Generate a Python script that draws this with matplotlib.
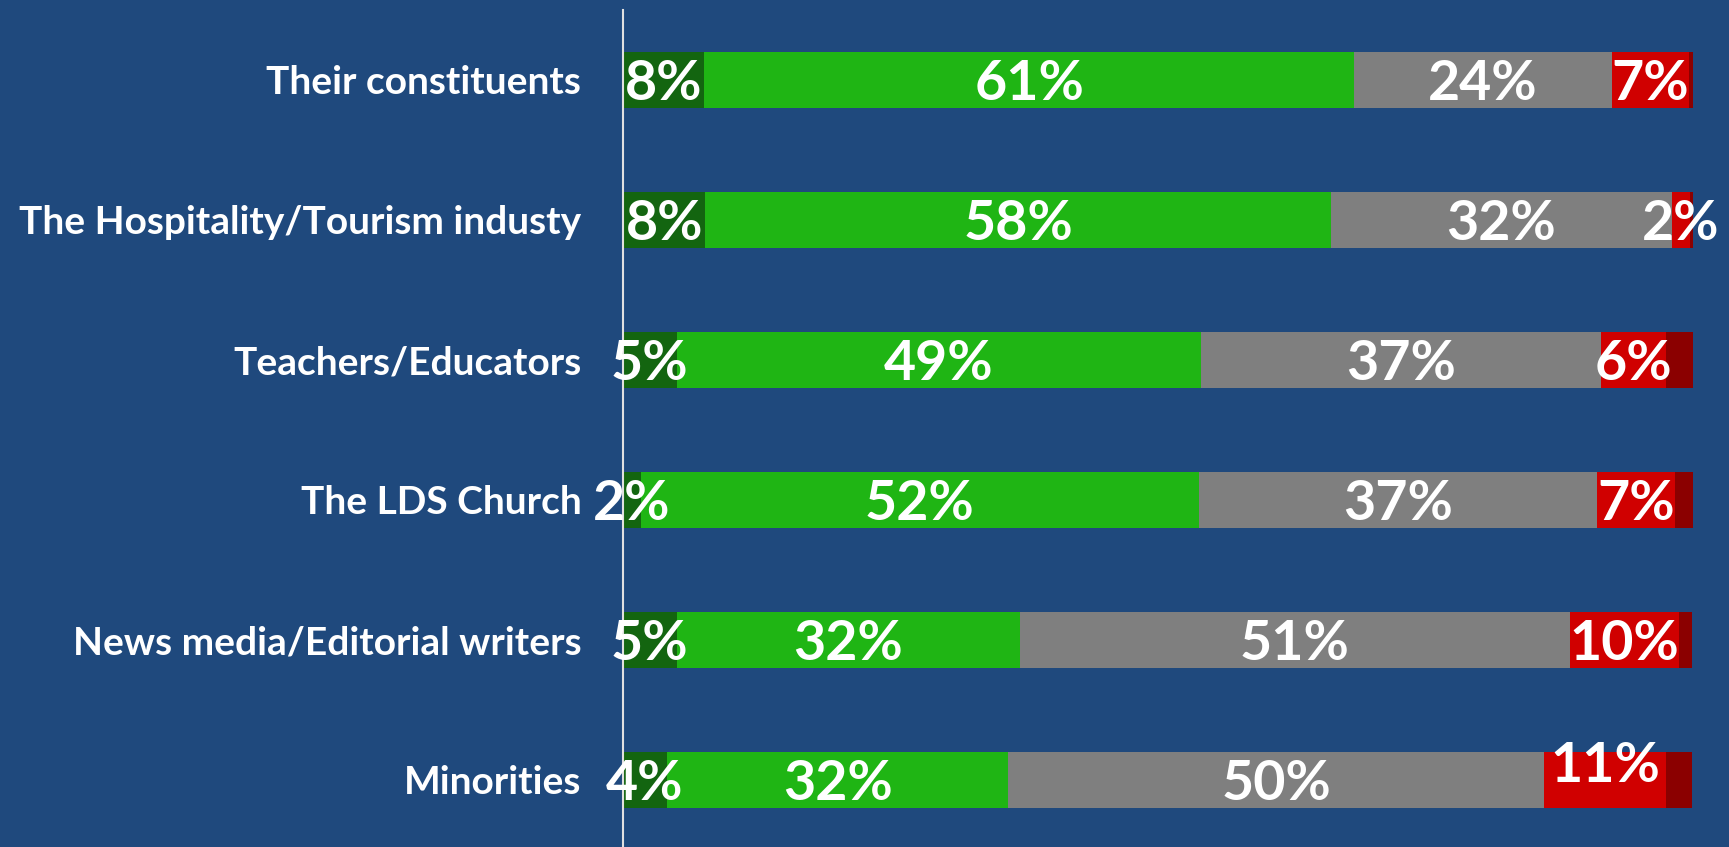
import numpy as np
import matplotlib.pyplot as plt

# Survey rows, top to bottom
categories = ['Their constituents', 'The Hospitality/Tourism industy', 'Teachers/Educators',
              'The LDS Church', 'News media/Editorial writers', 'Minorities']

# segment shares in percent
very_pos = [7.6, 7.7, 5.0, 1.7, 5.0, 4.1]
some_pos = [60.7, 58.5, 49.0, 52.1, 32.1, 31.9]
neutral = [24.1, 31.8, 37.4, 37.2, 51.4, 50.1]
some_neg = [7.2, 1.7, 6.1, 7.3, 10.2, 11.4]
very_neg = [0.4, 0.4, 2.5, 1.7, 1.2, 2.4]

bg = '#1F497D'
colors = ['#136510', '#1FB514', '#7F7F7F', '#D00000', '#8B0000']
series = [very_pos, some_pos, neutral, some_neg, very_neg]
labeled = [True, True, True, True, False]

fig = plt.figure(figsize=(17.29, 8.47), dpi=100, facecolor=bg)
ax = fig.add_axes([623 / 1729, 0, 1070 / 1729, 837 / 847], facecolor=bg)

y = np.arange(len(categories))
left = np.zeros(len(categories))
for vals, col, lab in zip(series, colors, labeled):
    vals = np.array(vals)
    ax.barh(y, vals, left=left, height=0.4, color=col, zorder=2)
    if lab:
        for i, (l, v) in enumerate(zip(left, vals)):
            dy = -0.1 if (col == '#D00000' and i == 5) else 0.03
            ax.text(l + v / 2, i + dy, f'{round(v)}%', ha='center', va='center',
                    color='white', fontsize=40, fontweight='bold',
                    family='Lato', zorder=3)
    left += vals

ax.set_xlim(0, 100)
ax.set_ylim(5.48, -0.5)
ax.set_xticks([])
ax.set_yticks(y)
ax.set_yticklabels(categories, color='white', fontsize=28, fontweight='bold', family='Lato')
ax.tick_params(axis='y', length=0, pad=30)
for s in ['top', 'right', 'bottom']:
    ax.spines[s].set_visible(False)
ax.spines['left'].set_color('#E0E0E0')
ax.spines['left'].set_linewidth(1.5)

fig.savefig('out.png', dpi=100, facecolor=bg)
